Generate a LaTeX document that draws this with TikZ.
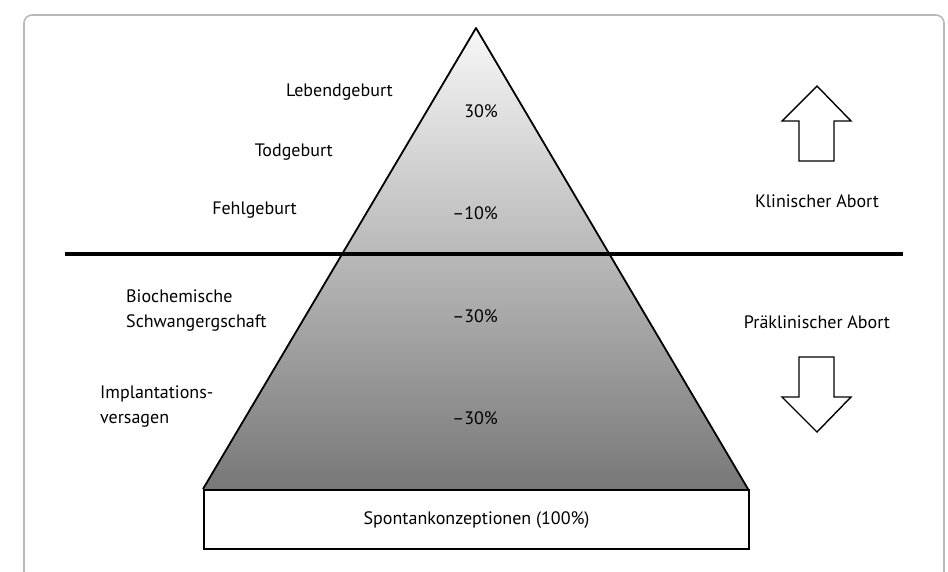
\documentclass[tikz,border=0pt]{standalone}
\usepackage{fontspec}
\setmainfont{PT Sans}
\definecolor{pyrtop}{gray}{0.97}
\definecolor{pyrmid}{gray}{0.80}
\definecolor{pyrbot}{gray}{0.47}
\tikzset{lbl/.style={font=\fontsize{18}{25}\selectfont,inner sep=0pt},
         pct/.style={lbl,anchor=base east},
         blockarrow/.style={draw,line width=1.4pt,fill=white,line join=miter}}

\begin{document}
\begin{tikzpicture}[x=1pt,y=-1pt]
                   \useasboundingbox (0,0) rectangle (948,571);
                   \draw[gray!55,line width=1.6pt,rounded corners=8pt] (24,580) |- (944,15) -- (944,580);
                   \coordinate (apex) at (476,28);
                   \coordinate (bl) at (203,489);
                   \coordinate (br) at (748,489);
                   \shade[top color=pyrtop,middle color=pyrmid,bottom color=pyrbot] (apex) -- (br) -- (bl) -- cycle;
                   \draw[line width=1.8pt,line join=round] (bl) -- (apex) -- (br);
                   \node[draw,fill=white,line width=2.2pt,lbl,anchor=north west,
                         minimum width=545pt,minimum height=59pt] (base) at (bl) {Spontankonzeptionen (100\%)};
                   \coordinate (lineL) at (65,254);
                   \coordinate (lineR) at (903,254);
                   \draw[line width=4pt] (lineL) -- (lineR);
                   \node[lbl,anchor=base east] (leb) at (393,96) {Lebendgeburt};
                   \node[lbl,anchor=base east] (tod) at (333,156) {Todgeburt};
                   \node[lbl,anchor=base east] (fehl) at (297,214) {Fehlgeburt};
                   \node[lbl,anchor=west,align=left] (bio) at (126,311) {Biochemische\\Schwangergschaft};
                   \node[lbl,anchor=west,align=left] (impl) at (100,407) {Implantations-\\versagen};
                   \node[pct] (p_leb) at (498,117) {30\%};
                   \node[pct] (p_fehl) at (498,219) {--10\%};
                   \node[pct] (p_bio) at (498,322) {--30\%};
                   \node[pct] (p_impl) at (498,424) {--30\%};
                   \node[lbl,anchor=base] (klin) at (817,207) {Klinischer Abort};
                   \node[lbl,anchor=base] (praek) at (817,328) {Präklinischer Abort};
                   \draw[blockarrow] (817,86) -- (851,121) -- (834,121) -- (834,161)
                         -- (799,161) -- (799,121) -- (782,121) -- cycle;
                   \draw[blockarrow] (817,432) -- (851,397) -- (834,397) -- (834,357)
                         -- (799,357) -- (799,397) -- (782,397) -- cycle;
                \end{tikzpicture}
\end{document}
